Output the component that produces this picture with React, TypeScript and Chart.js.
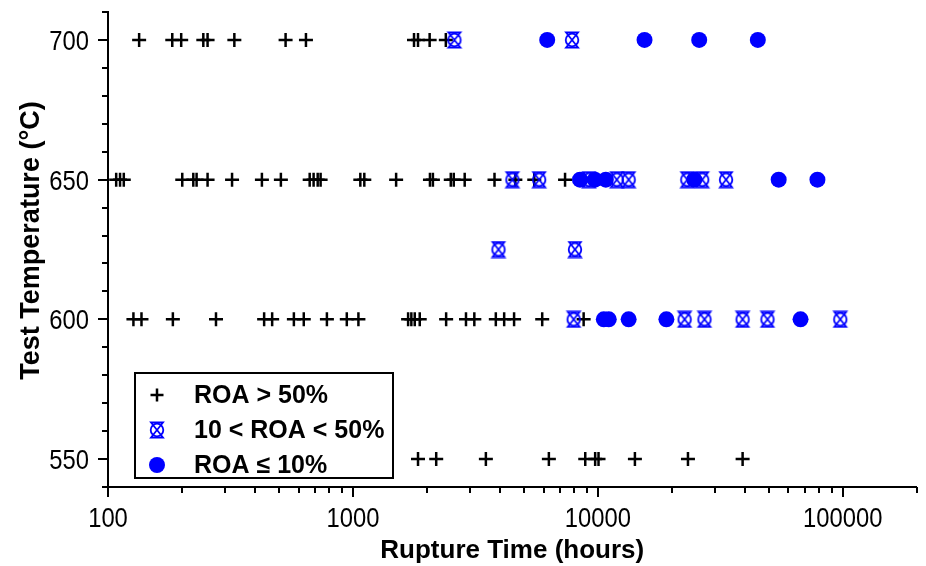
import React, { useEffect, useRef } from 'react';
import { Chart, registerables } from 'chart.js';

Chart.register(...registerables);

// Tick values
const xMajorTicks = [100, 1000, 10000, 100000];
const xMin = 100;
const xMax = 200000;
const yMin = 540;
const yMax = 710;
const yMajorTicks = [550, 600, 650, 700];

// ROA > 50%  (rupture time in hours, per test temperature)
const plus700 = [134, 183, 199, 245, 255, 328, 531, 643, 1776, 1844, 2057, 2395];
const plus650 = [108, 112, 116, 201, 223, 230, 255, 321, 425, 508, 666, 691, 718, 738, 1072, 1113, 1501, 2063, 2121, 2509, 2580, 2860, 3785, 4605, 5500, 7347];
const plus600 = [127, 137, 184, 276, 434, 468, 574, 630, 783, 944, 1053, 1680, 1732, 1788, 1874, 2402, 2895, 3131, 3832, 4145, 4550, 5927, 8750];
const plus550 = [1844, 2188, 3490, 6310, 8883, 9750, 10064, 14168, 23330, 39000];

// 10 < ROA < 50%
const mid700 = [2597, 7847];
const mid650 = [4478, 5760, 9195, 11945, 13360, 23180, 26670, 33370];
const mid625 = [3929, 8065];
const mid600 = [7966, 22610, 27250, 39000, 49270, 97700];

// ROA <= 10%
const low700 = [6212, 15510, 25930, 45000];
const low650 = [8453, 9723, 10777, 24750, 54740, 78800];
const low600 = [10576, 11081, 13360, 19050, 67230];

const legendLabels = ['ROA > 50%', '10 < ROA < 50%', 'ROA \u2264 10%'];
const xTitle = 'Rupture Time (hours)';
const yTitle = 'Test Temperature (\u00B0C)';

const BLUE = '#0000ff';
const FONT = "'Liberation Sans', Arial, Helvetica, sans-serif";

function pts(temp: number, times: number[]) {
  return times.map((t) => ({ x: t, y: temp }));
}

function makeXMarker(): HTMLCanvasElement {
  const c = document.createElement('canvas');
  c.width = 18;
  c.height = 18;
  const g = c.getContext('2d')!;
  g.strokeStyle = BLUE;
  g.lineWidth = 1.8;
  g.beginPath();
  g.arc(9, 9, 6.3, 0, Math.PI * 2);
  g.stroke();
  g.beginPath();
  g.moveTo(3, 1.5);
  g.lineTo(15, 1.5);
  g.lineTo(3, 16.5);
  g.lineTo(15, 16.5);
  g.closePath();
  g.stroke();
  return c;
}

function buildXTicks() {
  const out: number[] = [];
  for (let d = xMin; d <= xMax; d *= 10) {
    for (let m = 1; m <= 9; m++) {
      const v = d * m;
      if (v <= xMax) out.push(v);
    }
  }
  return out;
}

function buildYTicks() {
  const out: number[] = [];
  for (let v = yMin; v <= yMax; v += 10) out.push(v);
  return out;
}

export default function App() {
  const ref = useRef<HTMLCanvasElement | null>(null);

  useEffect(() => {
    if (!ref.current) return;
    const xMarker = makeXMarker();
    const xTicks = buildXTicks();
    const yTicks = buildYTicks();
    const NARROW_SCALE = 0.85;

    const axisDecor = {
      id: 'axisDecor',
      afterDraw(chart: any) {
        const ctx = chart.ctx;
        const xs = chart.scales.x;
        const ys = chart.scales.y;
        ctx.save();
        // tick marks
        ctx.strokeStyle = '#000';
        ctx.lineWidth = 2;
        ctx.beginPath();
        xs.ticks.forEach((t: any) => {
          const px = Math.round(xs.getPixelForValue(t.value));
          const len = xMajorTicks.includes(t.value) ? 10 : 6;
          ctx.moveTo(px, xs.top);
          ctx.lineTo(px, xs.top + len);
        });
        ys.ticks.forEach((t: any) => {
          const py = Math.round(ys.getPixelForValue(t.value));
          const len = yMajorTicks.includes(t.value) ? 10 : 6;
          ctx.moveTo(ys.right, py);
          ctx.lineTo(ys.right - len, py);
        });
        ctx.stroke();

        // tick labels (condensed face)
        ctx.fillStyle = '#000';
        ctx.font = `28px ${FONT}`;
        ctx.textBaseline = 'alphabetic';
        xs.ticks.forEach((t: any) => {
          if (!xMajorTicks.includes(t.value)) return;
          const px = xs.getPixelForValue(t.value);
          ctx.save();
          ctx.translate(px, xs.top + 40);
          ctx.scale(NARROW_SCALE, 1);
          ctx.textAlign = 'center';
          ctx.fillText(String(t.value), 0, 0);
          ctx.restore();
        });
        ys.ticks.forEach((t: any) => {
          if (!yMajorTicks.includes(t.value)) return;
          const py = ys.getPixelForValue(t.value);
          ctx.save();
          ctx.translate(ys.right - 19, py + 10);
          ctx.scale(NARROW_SCALE, 1);
          ctx.textAlign = 'right';
          ctx.fillText(String(t.value), 0, 0);
          ctx.restore();
        });

        // y axis title
        ctx.save();
        ctx.font = `bold 27px ${FONT}`;
        ctx.textAlign = 'center';
        ctx.textBaseline = 'middle';
        ctx.translate(32, (ys.top + ys.bottom) / 2 - 9);
        ctx.rotate(-Math.PI / 2);
        ctx.fillText(yTitle, 0, 0);
        ctx.restore();

        ctx.restore();
      },
    };

    const boxLegend = {
      id: 'boxLegend',
      afterDraw(chart: any) {
        const ctx = chart.ctx;
        const area = chart.chartArea;
        const left = area.left + 27;
        const w = 258;
        const h = 105;
        const top = area.bottom - 9 - h;
        ctx.save();
        ctx.fillStyle = '#fff';
        ctx.fillRect(left, top, w, h);
        ctx.strokeStyle = '#000';
        ctx.lineWidth = 2;
        ctx.strokeRect(left, top, w, h);
        const rows = [top + 22, top + 57, top + 92];
        const mx = left + 22;
        // plus
        ctx.beginPath();
        ctx.lineWidth = 2.5;
        ctx.moveTo(mx - 6.5, rows[0]);
        ctx.lineTo(mx + 6.5, rows[0]);
        ctx.moveTo(mx, rows[0] - 6.5);
        ctx.lineTo(mx, rows[0] + 6.5);
        ctx.stroke();
        // x marker
        ctx.drawImage(xMarker, mx - 9, rows[1] - 9);
        // circle
        ctx.beginPath();
        ctx.fillStyle = BLUE;
        ctx.arc(mx, rows[2], 8, 0, Math.PI * 2);
        ctx.fill();
        ctx.fillStyle = '#000';
        ctx.font = `bold 25px ${FONT}`;
        ctx.textBaseline = 'middle';
        ctx.textAlign = 'left';
        legendLabels.forEach((l, i) => ctx.fillText(l, left + 59, rows[i] + 1));
        ctx.restore();
      },
    };

    const chart = new Chart(ref.current, {
      type: 'scatter',
      data: {
        datasets: [
          {
            label: legendLabels[0],
            data: [...pts(700, plus700), ...pts(650, plus650), ...pts(600, plus600), ...pts(550, plus550)],
            pointStyle: 'cross',
            pointRadius: 7,
            borderColor: '#000',
            backgroundColor: '#000',
            borderWidth: 2.5,
            order: 3,
          },
          {
            label: legendLabels[1],
            data: [...pts(700, mid700), ...pts(650, mid650), ...pts(625, mid625), ...pts(600, mid600)],
            pointStyle: xMarker as any,
            pointRadius: 8,
            borderColor: BLUE,
            backgroundColor: BLUE,
            order: 2,
          },
          {
            label: legendLabels[2],
            data: [...pts(700, low700), ...pts(650, low650), ...pts(600, low600)],
            pointStyle: 'circle',
            pointRadius: 8,
            borderWidth: 0,
            backgroundColor: BLUE,
            borderColor: BLUE,
            order: 1,
          },
        ],
      },
      options: {
        animation: false,
        responsive: false,
        devicePixelRatio: 1,
        layout: { padding: { top: 12, right: 6, left: 0, bottom: 0 } },
        plugins: { legend: { display: false }, tooltip: { enabled: false } },
        scales: {
          x: {
            type: 'logarithmic',
            min: xMin,
            max: xMax,
            position: 'bottom',
            afterBuildTicks: (s: any) => {
              s.ticks = xTicks.map((v) => ({ value: v }));
            },
            afterFit: (s: any) => {
              s.height = 79;
              s.paddingLeft = 0;
              s.paddingRight = 0;
            },
            ticks: { display: false, autoSkip: false },
            grid: { display: true, drawOnChartArea: false, drawTicks: false },
            border: { display: true, color: '#000', width: 2 },
            title: {
              display: true,
              text: xTitle,
              color: '#000',
              font: { family: FONT, size: 26, weight: 'bold' },
              padding: { top: 0, bottom: 0 },
            },
          },
          y: {
            type: 'linear',
            min: yMin,
            max: yMax,
            afterBuildTicks: (s: any) => {
              s.ticks = yTicks.map((v) => ({ value: v }));
            },
            afterFit: (s: any) => {
              s.width = 108;
              s.paddingTop = 0;
              s.paddingBottom = 0;
            },
            ticks: { display: false, autoSkip: false },
            grid: { display: true, drawOnChartArea: false, drawTicks: false },
            border: { display: true, color: '#000', width: 2 },
            title: { display: false },
          },
        },
      } as any,
      plugins: [axisDecor, boxLegend],
    });
    return () => chart.destroy();
  }, []);

  return (
    <div style={{ position: 'absolute', left: 0, top: 0, width: 926, height: 566, background: '#fff' }}>
      <canvas ref={ref} width={926} height={566} style={{ display: 'block' }} />
    </div>
  );
}
